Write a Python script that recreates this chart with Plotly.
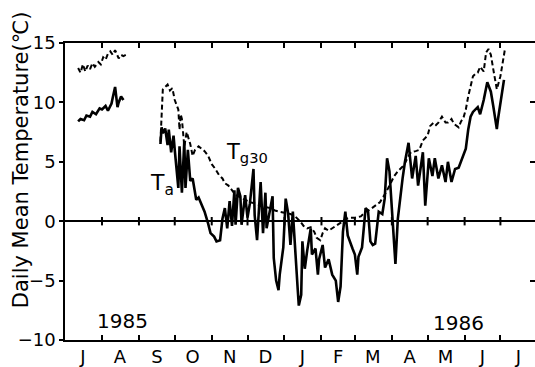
import pandas as pd
import plotly.graph_objects as go

# ---------------- data ----------------
START = pd.Timestamp("1985-07-01")

# Air temperature Ta (solid) - day offsets from 1 Jul 1985
ta_days_1 = [11, 13, 16, 18, 21, 23, 26, 29, 31, 34, 36, 39, 40, 42, 44, 45, 47, 49]
ta_vals_1 = [8.4, 8.6, 8.5, 8.9, 8.8, 9.2, 9.0, 9.5, 9.4, 9.7, 9.3, 9.9, 10.4, 11.3, 9.6, 10.0, 10.5, 10.2]

ta_days_2 = [80, 81, 82, 84, 86, 87, 89, 91, 92, 95, 96, 98, 100, 101, 103, 105, 107, 110, 112, 115,
             117, 120, 122, 125, 127, 130, 132, 134, 136, 138, 140, 142, 143, 145, 147, 148, 151, 153, 155, 158,
             159, 161, 164, 166, 168, 169, 172, 174, 175, 177, 179, 180, 183, 185, 187, 189, 191, 193, 195, 196,
             198, 199, 201, 203, 206, 207, 210, 212, 213, 216, 218, 221, 224, 227, 229, 231, 233, 235, 237, 241,
             243, 245, 246, 249, 252, 254, 256, 258, 260, 263, 266, 268, 270, 272, 274, 277, 279, 281, 283, 285,
             288, 291, 294, 296, 300, 302, 305, 308, 310, 313, 316, 319, 321, 324, 327, 330, 332, 336, 338, 340,
             342, 346, 348, 351, 354, 357, 359, 362, 363, 366, 368]
ta_vals_2 = [6.5, 7.9, 7.4, 7.8, 6.4, 7.7, 5.8, 7.2, 6.0, 2.8, 6.3, 2.4, 6.7, 2.8, 6.0, 3.4, 3.6, 1.8, 2.0, 1.3,
             0.8, -0.2, -1.0, -1.3, -1.7, -1.6, 0.2, 1.1, -0.6, 1.7, -0.4, 2.6, -0.3, 2.8, 2.1, -0.3, 2.2, 0.3, 1.5, 4.4,
             0.5, -1.6, 3.3, -1.0, 2.4, -0.6, 1.0, 2.1, -3.1, -5.0, -5.8, -4.5, -2.2, 1.9, 0.7, -2.0, 0.8, -3.0, -5.6, -7.1,
             -6.2, -1.7, -4.0, -2.5, -0.6, -2.8, -2.3, -4.5, -3.2, -2.0, -3.9, -3.2, -4.5, -5.0, -6.8, -5.5, -0.9, 0.8, -1.2, -2.3,
             -2.8, -4.5, -3.0, -2.2, 1.1, 0.9, -1.7, -2.0, -1.9, 0.8, 0.6, 1.9, 5.3, 4.2, 1.1, -3.6, 0.2, 2.2, 3.6, 5.0,
             6.6, 3.6, 5.5, 3.0, 5.8, 1.3, 5.3, 3.8, 5.3, 3.6, 4.7, 3.3, 5.0, 3.3, 4.4, 4.5, 5.0, 6.1, 7.7, 8.8,
             9.2, 9.6, 9.0, 10.2, 11.7, 10.9, 9.7, 7.75, 8.6, 10.5, 11.9]

# Ground temperature at 30 cm Tg30 (dashed)
tg_days_1 = [11, 13, 15, 17, 19, 21, 23, 25, 28, 30, 32, 34, 36, 38, 40, 42, 45, 47, 49, 51]
tg_vals_1 = [12.9, 12.5, 13.2, 12.6, 13.1, 12.8, 13.3, 13.0, 13.4, 13.2, 13.8, 13.6, 14.1, 14.3, 14.0, 14.4, 13.7, 14.0, 13.9, 14.0]

tg_days_2 = [80, 81, 82, 85, 86, 88, 90, 92, 95, 96, 97, 98, 100, 102, 103, 105, 107, 109, 112, 115,
             117, 120, 123, 126, 129, 132, 134, 137, 140, 143, 147, 151, 155, 159, 164, 168, 172, 176, 180, 185,
             189, 193, 197, 200, 203, 206, 209, 211, 214, 216, 218, 221, 224, 227, 229, 232, 236, 239, 243, 248,
             252, 256, 260, 264, 269, 271, 274, 276, 279, 284, 287, 290, 294, 297, 300, 304, 306, 309, 311, 313,
             316, 319, 321, 324, 326, 330, 332, 334, 336, 338, 342, 344, 346, 348, 351, 353, 355, 357, 359, 362,
             365, 368, 369]
tg_vals_2 = [6.7, 9.5, 11.1, 11.4, 11.5, 11.0, 11.2, 10.2, 9.4, 7.7, 9.0, 8.6, 6.3, 7.5, 7.2, 6.5, 5.5, 6.0, 6.3, 6.1,
             5.9, 5.5, 4.8, 4.4, 3.9, 3.6, 3.2, 3.0, 2.6, 2.2, 2.0, 1.8, 1.6, 1.5, 1.3, 1.2, 1.1, 0.9, 0.8, 0.7,
             0.6, 0.4, 0.0, -0.4, -0.6, -0.5, -0.9, -1.4, -1.6, -1.0, -0.6, -0.8, -0.6, -0.4, -0.2, 0.0, 0.2, 0.3, 0.3, 0.4,
             0.8, 1.0, 1.3, 1.6, 2.4, 2.8, 3.3, 3.8, 4.2, 4.7, 5.3, 5.8, 5.9, 6.0, 6.8, 7.2, 8.0, 8.3, 8.1, 8.3,
             8.8, 8.3, 8.3, 8.6, 8.2, 7.9, 8.4, 8.7, 9.4, 10.5, 12.2, 12.4, 12.5, 13.0, 12.6, 14.2, 14.5, 14.0, 12.8, 11.1,
             12.2, 14.1, 14.6]

month_starts = ["1985-08-01", "1985-09-01", "1985-10-01", "1985-11-01", "1985-12-01", "1986-01-01",
                "1986-02-01", "1986-03-01", "1986-04-01", "1986-05-01", "1986-06-01", "1986-07-01"]
month_mids = ["1985-07-16", "1985-08-16", "1985-09-16", "1985-10-16", "1985-11-16", "1985-12-16",
              "1986-01-16", "1986-02-15", "1986-03-16", "1986-04-16", "1986-05-16", "1986-06-16", "1986-07-16"]
month_letters = ["J", "A", "S", "O", "N", "D", "J", "F", "M", "A", "M", "J", "J"]
y_ticks = [15, 10, 5, 0, -5, -10]


def join(days_a, vals_a, days_b, vals_b):
    x = [START + pd.Timedelta(days=d) for d in days_a] + [None] + [START + pd.Timedelta(days=d) for d in days_b]
    y = list(vals_a) + [None] + list(vals_b)
    return x, y


ta_x, ta_y = join(ta_days_1, ta_vals_1, ta_days_2, ta_vals_2)
tg_x, tg_y = join(tg_days_1, tg_vals_1, tg_days_2, tg_vals_2)

FONT = "DejaVu Sans"

fig = go.Figure()
fig.add_trace(go.Scatter(x=tg_x, y=tg_y, mode="lines", connectgaps=False,
                         line=dict(color="black", width=2, dash="5px,3px"), hoverinfo="skip"))
fig.add_trace(go.Scatter(x=ta_x, y=ta_y, mode="lines", connectgaps=False,
                         line=dict(color="black", width=2.6), hoverinfo="skip"))
# small tick marks on the zero line at month boundaries
fig.add_trace(go.Scatter(x=month_starts, y=[0] * len(month_starts), mode="markers",
                         xaxis="x2", yaxis="y2",
                         marker=dict(symbol="line-ns", size=6, line=dict(color="black", width=2)),
                         hoverinfo="skip"))

x_range = ["1985-07-01", "1986-07-30"]
fig.update_layout(
    width=535, height=367,
    margin=dict(l=65, r=0, t=43, b=25),
    paper_bgcolor="white", plot_bgcolor="white",
    showlegend=False,
    font=dict(family=FONT, color="black"),
    xaxis=dict(type="date", range=x_range, tickvals=month_starts, showticklabels=False,
               ticks="inside", ticklen=5, tickwidth=1.5, tickcolor="black",
               showline=True, linecolor="black", linewidth=1.5, mirror="ticks",
               showgrid=False, zeroline=False),
    xaxis2=dict(type="date", range=x_range, overlaying="x", anchor="y", side="bottom",
                tickvals=month_mids, ticktext=month_letters, ticks="",
                tickfont=dict(size=18, family=FONT, color="black"), ticklabelstandoff=4,
                showline=False, showgrid=False, zeroline=False),
    yaxis=dict(range=[-10, 15], tickvals=y_ticks, ticks="outside", ticklen=4, tickwidth=1.5,
               tickcolor="black", tickfont=dict(size=18, family=FONT, color="black"),
               showline=True, linecolor="black", linewidth=1.5,
               showgrid=False, zeroline=True, zerolinecolor="black", zerolinewidth=1.5),
    yaxis2=dict(range=[-10, 15], overlaying="y", anchor="x", side="right", tickvals=y_ticks,
                ticks="inside", ticklen=5, tickwidth=1.5, tickcolor="black", showticklabels=False,
                showline=True, linecolor="black", linewidth=1.5, showgrid=False, zeroline=False),
)

def label(text, px, py, size, angle=0):
    fig.add_annotation(text=text, textangle=angle, xref="paper", yref="paper",
                       x=(px - 65) / 470, y=(342 - py) / 299, xanchor="center", yanchor="middle",
                       showarrow=False, font=dict(size=size, family=FONT, color="black"))

label("Daily Mean Temperature(℃)", 21, 161, 21, -90)
label("1985", 122, 323, 20)
label("1986", 458, 325, 20)
label("T<sub>a</sub>", 162, 185, 22)
label("T<sub>g30</sub>", 247, 154, 21)

fig.write_html("out.html")
